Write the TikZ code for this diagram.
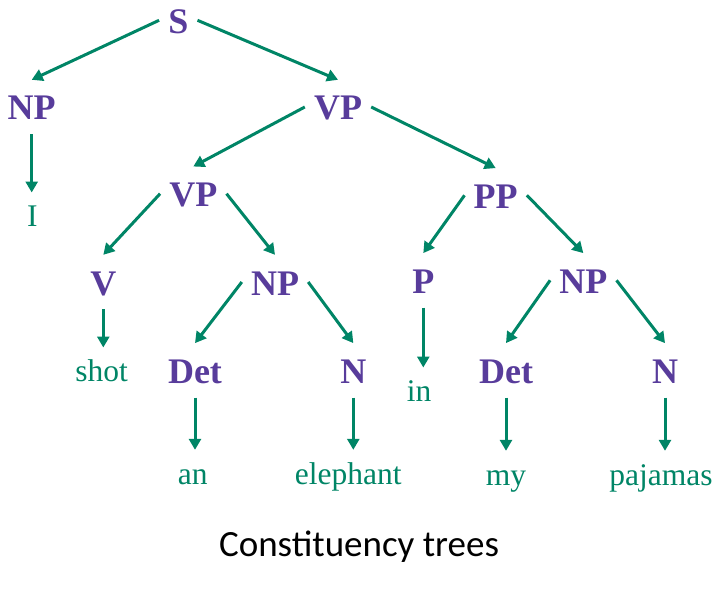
\documentclass[tikz,border=0pt]{standalone}
\usepackage{fontspec}
\setmainfont{Liberation Serif}
\newfontfamily\capfont{Carlito}
\usetikzlibrary{arrows.meta}
\definecolor{ntpurple}{RGB}{88,60,155}
\definecolor{wordgreen}{RGB}{0,133,102}
\begin{document}
\begin{tikzpicture}[
            x=1pt, y=-1pt,
            nt/.style={anchor=base, inner sep=0pt, inner xsep=9pt, text height=40pt, text depth=14pt,
                font=\fontsize{36}{36}\selectfont\bfseries, text=ntpurple},
            word/.style={anchor=base, inner sep=0pt, text height=34pt, text depth=8pt,
                font=\fontsize{31.5}{31.5}\selectfont, text=wordgreen},
            edge/.style={draw=wordgreen, line width=3pt, -{Triangle[length=11pt, width=12pt]}}
        ]
        \useasboundingbox (0,0) rectangle (719,591);

        % Phrase nodes
        \node[nt] (s) at (178.3,33.3) {S};
        \node[nt] (np1) at (31.7,120) {NP};
        \node[nt] (vp1) at (338,120) {VP};
        \node[nt] (vp2) at (193.3,206.7) {VP};
        \node[nt] (pp) at (495.7,208.3) {PP};
        \node[nt] (v) at (103.3,295) {V};
        \node[nt] (np2) at (275,295) {NP};
        \node[nt] (p) at (423.3,293.3) {P};
        \node[nt] (np3) at (583.3,293.3) {NP};
        \node[nt] (det1) at (195,383.3) {Det};
        \node[nt] (n1) at (353.3,383.3) {N};
        \node[nt] (det2) at (506,383.3) {Det};
        \node[nt] (n2) at (665,383.3) {N};

        % Words
        \node[word] (wi) at (32.3,226.7) {I};
        \node[word] (wshot) at (101.7,381.7) {shot};
        \node[word] (win) at (419,401.7) {in};
        \node[word] (wan) at (192.7,484) {an};
        \node[word] (welephant) at (348.3,484) {elephant};
        \node[word] (wmy) at (506,485) {my};
        \node[word] (wpajamas) at (661,485) {pajamas};

        \node[anchor=base, inner sep=0pt, font=\capfont\fontsize{37}{37}\selectfont] (caption)
            at (359,556.7) {Constituency trees};

        \draw[edge] (s.west) -- (np1.north);
        \draw[edge] (s.east) -- (vp1.north);
        \draw[edge] (vp1.west) -- (vp2.north);
        \draw[edge] (vp1.east) -- (pp.north);
        \draw[edge] (vp2.west) -- (v.north);
        \draw[edge] (vp2.east) -- (np2.north);
        \draw[edge] (pp.west) -- (p.north);
        \draw[edge] (pp.east) -- (np3.north);
        \draw[edge] (np2.west) -- (det1.north);
        \draw[edge] (np2.east) -- (n1.north);
        \draw[edge] (np3.west) -- (det2.north);
        \draw[edge] (np3.east) -- (n2.north);

        \draw[edge] (np1.south) -- (np1.south |- wi.north);
        \draw[edge] (v.south) -- (v.south |- wshot.north);
        \draw[edge] (p.south) -- (p.south |- win.north);
        \draw[edge] (det1.south) -- (det1.south |- wan.north);
        \draw[edge] (n1.south) -- (n1.south |- welephant.north);
        \draw[edge] (det2.south) -- (det2.south |- wmy.north);
        \draw[edge] (n2.south) -- (n2.south |- wpajamas.north);

        \end{tikzpicture}
\end{document}
